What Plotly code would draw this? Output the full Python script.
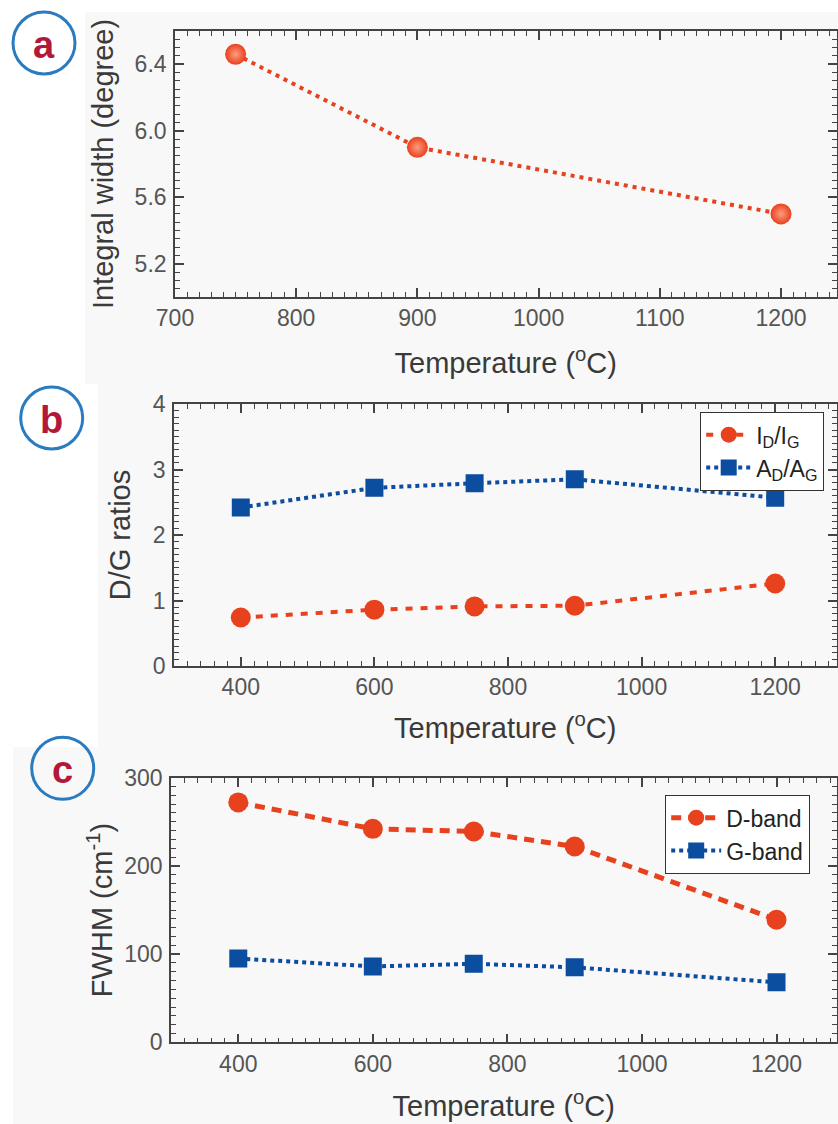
import plotly.graph_objects as go

# ---------------- data ----------------
temp_a = [750, 900, 1200]
integral_width = [6.46, 5.90, 5.50]

temp_bc = [400, 600, 750, 900, 1200]
id_ig = [0.74, 0.86, 0.91, 0.92, 1.26]
ad_ag = [2.42, 2.72, 2.79, 2.85, 2.57]

fwhm_d = [272, 242, 239, 222, 139]
fwhm_g = [95, 86, 89, 85, 68]

RED = "#e8411d"
BLUE = "#0b4d9e"
AXC = "#444444"
TICKC = "#555555"
FONT = "Liberation Sans, Arial, sans-serif"

W, H = 838, 1124


def px(x):
    return x / W


def py(y):
    return 1 - y / H


fig = go.Figure()

# panel a
fig.add_trace(go.Scatter(
    x=temp_a, y=integral_width, mode="lines+markers", showlegend=False,
    line=dict(color=RED, width=4, dash="4px,5px"),
    marker=dict(color=RED, size=21, line=dict(width=0),
                gradient=dict(type="radial", color="#ff9c80")),
    xaxis="x", yaxis="y"))

# panel b
fig.add_trace(go.Scatter(
    x=temp_bc, y=id_ig, mode="lines+markers", name="I<sub>D</sub>/I<sub>G</sub>",
    line=dict(color=RED, width=4, dash="7px,8px"),
    marker=dict(color=RED, size=20, symbol="circle", line=dict(width=0)),
    xaxis="x2", yaxis="y2", legend="legend"))
fig.add_trace(go.Scatter(
    x=temp_bc, y=ad_ag, mode="lines+markers", name="A<sub>D</sub>/A<sub>G</sub>",
    line=dict(color=BLUE, width=4, dash="4px,4px"),
    marker=dict(color=BLUE, size=18, symbol="square", line=dict(width=0)),
    xaxis="x2", yaxis="y2", legend="legend"))

# panel c
fig.add_trace(go.Scatter(
    x=temp_bc, y=fwhm_d, mode="lines+markers", name="D-band",
    line=dict(color=RED, width=5, dash="10px,7px"),
    marker=dict(color=RED, size=20, symbol="circle", line=dict(width=0)),
    xaxis="x3", yaxis="y3", legend="legend2"))
fig.add_trace(go.Scatter(
    x=temp_bc, y=fwhm_g, mode="lines+markers", name="G-band",
    line=dict(color=BLUE, width=4, dash="4px,4px"),
    marker=dict(color=BLUE, size=18, symbol="square", line=dict(width=0)),
    xaxis="x3", yaxis="y3", legend="legend2"))


def xax(domain, rng, dtick, minor, anchor, title_standoff):
    return dict(domain=domain, range=rng, dtick=dtick, tick0=0, automargin=False,
                ticks="inside", ticklen=9, tickwidth=1.5, tickcolor=AXC,
                minor=dict(dtick=minor, ticks="inside", ticklen=5, tickwidth=1.2, tickcolor=AXC,
                           showgrid=False),
                showline=True, linecolor=AXC, linewidth=1.6, mirror="allticks",
                showgrid=False, zeroline=False, anchor=anchor,
                ticklabelstandoff=0,
                tickfont=dict(family=FONT, size=23, color=TICKC),
                title=dict(text="Temperature (<sup>o</sup>C)", standoff=title_standoff,
                           font=dict(family=FONT, size=29, color="#3a3a3a")))


def yax(domain, rng, dtick, minor, anchor, title, title_standoff, fmt=None):
    d = dict(domain=domain, range=rng, dtick=dtick, tick0=0, automargin=False,
             ticks="inside", ticklen=9, tickwidth=1.5, tickcolor=AXC,
             minor=dict(dtick=minor, ticks="inside", ticklen=5, tickwidth=1.2, tickcolor=AXC,
                        showgrid=False),
             showline=True, linecolor=AXC, linewidth=1.6, mirror="allticks",
             showgrid=False, zeroline=False, anchor=anchor,
             ticklabelstandoff=2,
             tickfont=dict(family=FONT, size=23, color=TICKC),
             title=dict(text=title, standoff=title_standoff,
                        font=dict(family=FONT, size=29, color="#3a3a3a")))
    if fmt:
        d["tickformat"] = fmt
    return d


xr = 836.5
fig.update_layout(
    template="none",
    width=W, height=H,
    margin=dict(l=0, r=0, t=0, b=0, autoexpand=False),
    paper_bgcolor="white",
    plot_bgcolor="rgba(0,0,0,0)",
    font=dict(family=FONT),
    xaxis=xax([px(175), px(xr)], [700, 700 + (xr - 175) / 1.212], 100, 10, "y", 22),
    yaxis=yax([py(297), py(31)], [5.0, 6.6], 0.4, 0.05, "x", "Integral width (degree)", 12, ".1f"),
    xaxis2=xax([px(174), px(xr)], [300, 300 + (xr - 174) / 0.668], 200, 20, "y2", 18),
    yaxis2=yax([py(666), py(404)], [0, 4], 1, 0.1, "x2", "D/G ratios", 14),
    xaxis3=xax([px(171), px(xr)], [300, 300 + (xr - 171) / 0.6728], 200, 20, "y3", 20),
    yaxis3=yax([py(1042.3), py(777.7)], [0, 300], 100, 10, "x3", "FWHM (cm<sup>-1</sup>)", 3),
    legend=dict(x=px(700), y=py(412), xanchor="left", yanchor="top",
                bgcolor="white", bordercolor="#333333", borderwidth=1.2,
                font=dict(family=FONT, size=23, color="#222222"),
                itemwidth=45, tracegroupgap=0),
    legend2=dict(x=px(665), y=py(795), xanchor="left", yanchor="top",
                 bgcolor="white", bordercolor="#333333", borderwidth=1.2,
                 font=dict(family=FONT, size=23, color="#222222"),
                 itemwidth=50, tracegroupgap=0),
)

shapes = []
# subtle panel backgrounds
for (x0, y0, x1, y1) in [(85, 12, 838, 384), (98, 384, 838, 747), (13, 747, 838, 1124)]:
    shapes.append(dict(type="rect", xref="paper", yref="paper",
                       x0=px(x0), x1=px(x1), y0=py(y1), y1=py(y0),
                       fillcolor="#f8f8f8", line=dict(width=0), layer="below"))
annotations = []
for (lab, cx, cy) in [("a", 44, 43), ("b", 51.7, 418), ("c", 62.7, 768.3)]:
    r = 31
    shapes.append(dict(type="circle", xref="paper", yref="paper",
                       x0=px(cx - r), x1=px(cx + r), y0=py(cy + r), y1=py(cy - r),
                       line=dict(color="#2a7bc0", width=3), fillcolor="rgba(0,0,0,0)"))
    annotations.append(dict(text="<b>%s</b>" % lab, x=px(cx), y=py(cy + 2), xref="paper", yref="paper",
                            showarrow=False, xanchor="center", yanchor="middle",
                            font=dict(family=FONT, size=38, color="#b3173a")))
fig.update_layout(shapes=shapes, annotations=annotations)

fig.write_html(
    "out.html",
    config={"displayModeBar": False},
    post_script="document.body.style.margin='0';document.body.style.padding='0';"
                "document.body.style.overflow='hidden';",
)
